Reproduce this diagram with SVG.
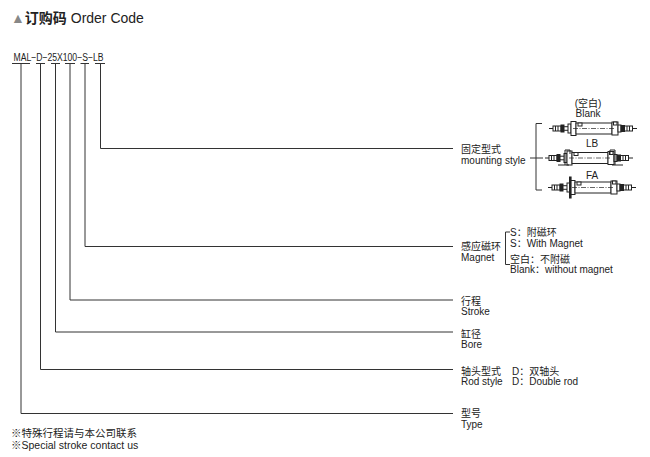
<svg xmlns="http://www.w3.org/2000/svg" width="650" height="457" viewBox="0 0 650 457">
<style>
  text { font-family: "Liberation Sans", "Noto Sans CJK SC", sans-serif; fill: #222; font-size: 10px; }
  .title { font-size: 14px; }
  .code { font-size: 10px; }
  .foot { font-size: 10.5px; }
  .ln { stroke: #333; stroke-width: 1; fill: none; }
  .cy { stroke: #222; stroke-width: 1; fill: #fff; }
  .cy .dk { fill: #222; }
  .cl { stroke: #222; stroke-width: 0.7; stroke-dasharray: 5 1.5 1 1.5; fill: none; }
</style>
<defs>
  <g id="cyl" class="cy">
    <line x1="0" y1="0" x2="4" y2="0"/>
    <rect x="4" y="-2.5" width="8" height="5"/>
    <line x1="6.5" y1="-2.5" x2="6.5" y2="2.5"/>
    <line x1="9" y1="-2.5" x2="9" y2="2.5"/>
    <rect class="dk" x="12" y="-3.5" width="3" height="7"/>
    <rect x="15" y="-1.8" width="5" height="3.6"/>
    <rect x="19" y="-4.5" width="3" height="9"/>
    <rect x="22" y="-7" width="5" height="14"/>
    <rect x="27" y="-5.5" width="36" height="11"/>
    <rect x="63" y="-6.5" width="6" height="13"/>
    <rect x="29" y="-5.5" width="4" height="3"/>
    <rect x="64.5" y="-6.5" width="3.5" height="3"/>
    <rect x="69" y="-3.5" width="3" height="7"/>
    <rect class="dk" x="72" y="-3" width="3.5" height="6"/>
    <rect x="75.5" y="-2.5" width="8" height="5"/>
    <line x1="78" y1="-2.5" x2="78" y2="2.5"/>
    <line x1="80.5" y1="-2.5" x2="80.5" y2="2.5"/>
    <line x1="83.5" y1="0" x2="88" y2="0"/>
    <line class="cl" x1="24" y1="0" x2="66" y2="0"/>
  </g>
</defs>

<g id="title">
  <text class="title" x="11" y="23"><tspan fill="#888">▲</tspan><tspan font-weight="bold">订购码</tspan> Order Code</text>
</g>

<g id="code">
  <text class="code" x="13.5" y="61" textLength="90" lengthAdjust="spacingAndGlyphs">MAL−D−25X100−S−LB</text>
  <g class="ln">
    <line x1="12" y1="63.5" x2="30" y2="63.5"/>
    <line x1="36" y1="63.5" x2="45" y2="63.5"/>
    <line x1="51" y1="63.5" x2="60" y2="63.5"/>
    <line x1="65" y1="63.5" x2="75" y2="63.5"/>
    <line x1="80.5" y1="63.5" x2="89" y2="63.5"/>
    <line x1="95" y1="63.5" x2="105" y2="63.5"/>
  </g>
</g>

<g id="connectors" class="ln">
  <polyline points="100.5,63.5 100.5,148.5 453,148.5"/>
  <polyline points="85,63.5 85,246.5 453,246.5"/>
  <polyline points="70,63.5 70,300 453,300"/>
  <polyline points="55.5,63.5 55.5,332 453,332"/>
  <polyline points="40.5,63.5 40.5,369.5 453,369.5"/>
  <polyline points="21,63.5 21,413.5 453,413.5"/>
</g>

<g id="node-mounting">
  <text x="461" y="152.5">固定型式</text>
  <text x="461" y="163.5">mounting style</text>
  <path class="ln" d="M542,123.5 H536 V190 H542 M530,158 H543"/>
  <text x="588" y="106.5" text-anchor="middle">(空白)</text>
  <text x="588" y="116.5" text-anchor="middle">Blank</text>
  <use href="#cyl" x="549" y="128.5"/>
  <text x="592" y="147" text-anchor="middle">LB</text>
  <use href="#cyl" x="545" y="158"/>
  <g class="cy" transform="translate(545,158)">
    <path fill="none" d="M20,-8 H25 V-4 M20,-8 V7 M13,7 H24 M70,-8 H65 V-4 M70,-8 V7 M67,7 H78"/>
  </g>
  <text x="592" y="178.5" text-anchor="middle">FA</text>
  <use href="#cyl" x="548" y="187.5"/>
  <rect x="569" y="176.5" width="2.6" height="22" fill="#222"/>
</g>

<g id="node-magnet">
  <text x="461" y="250">感应磁环</text>
  <text x="461" y="260.5">Magnet</text>
  <path class="ln" d="M510,232 H505.5 V264.5 H510"/>
  <text x="510" y="236">S：附磁环</text>
  <text x="510" y="246.5">S：With Magnet</text>
  <text x="510" y="263">空白：不附磁</text>
  <text x="510" y="273">Blank：without magnet</text>
</g>

<g id="node-stroke">
  <text x="461" y="304.5">行程</text>
  <text x="461" y="315">Stroke</text>
</g>

<g id="node-bore">
  <text x="461" y="337.5">缸径</text>
  <text x="461" y="348">Bore</text>
</g>

<g id="node-rod">
  <text x="461" y="374.5">轴头型式</text>
  <text x="461" y="385">Rod style</text>
  <text x="512" y="374.5">D：双轴头</text>
  <text x="512" y="385">D：Double rod</text>
</g>

<g id="node-type">
  <text x="461" y="417">型号</text>
  <text x="461" y="427.5">Type</text>
</g>

<g id="footnote">
  <text class="foot" x="11" y="437">※特殊行程请与本公司联系</text>
  <text class="foot" x="11" y="448.5">※Special stroke contact us</text>
</g>
</svg>
